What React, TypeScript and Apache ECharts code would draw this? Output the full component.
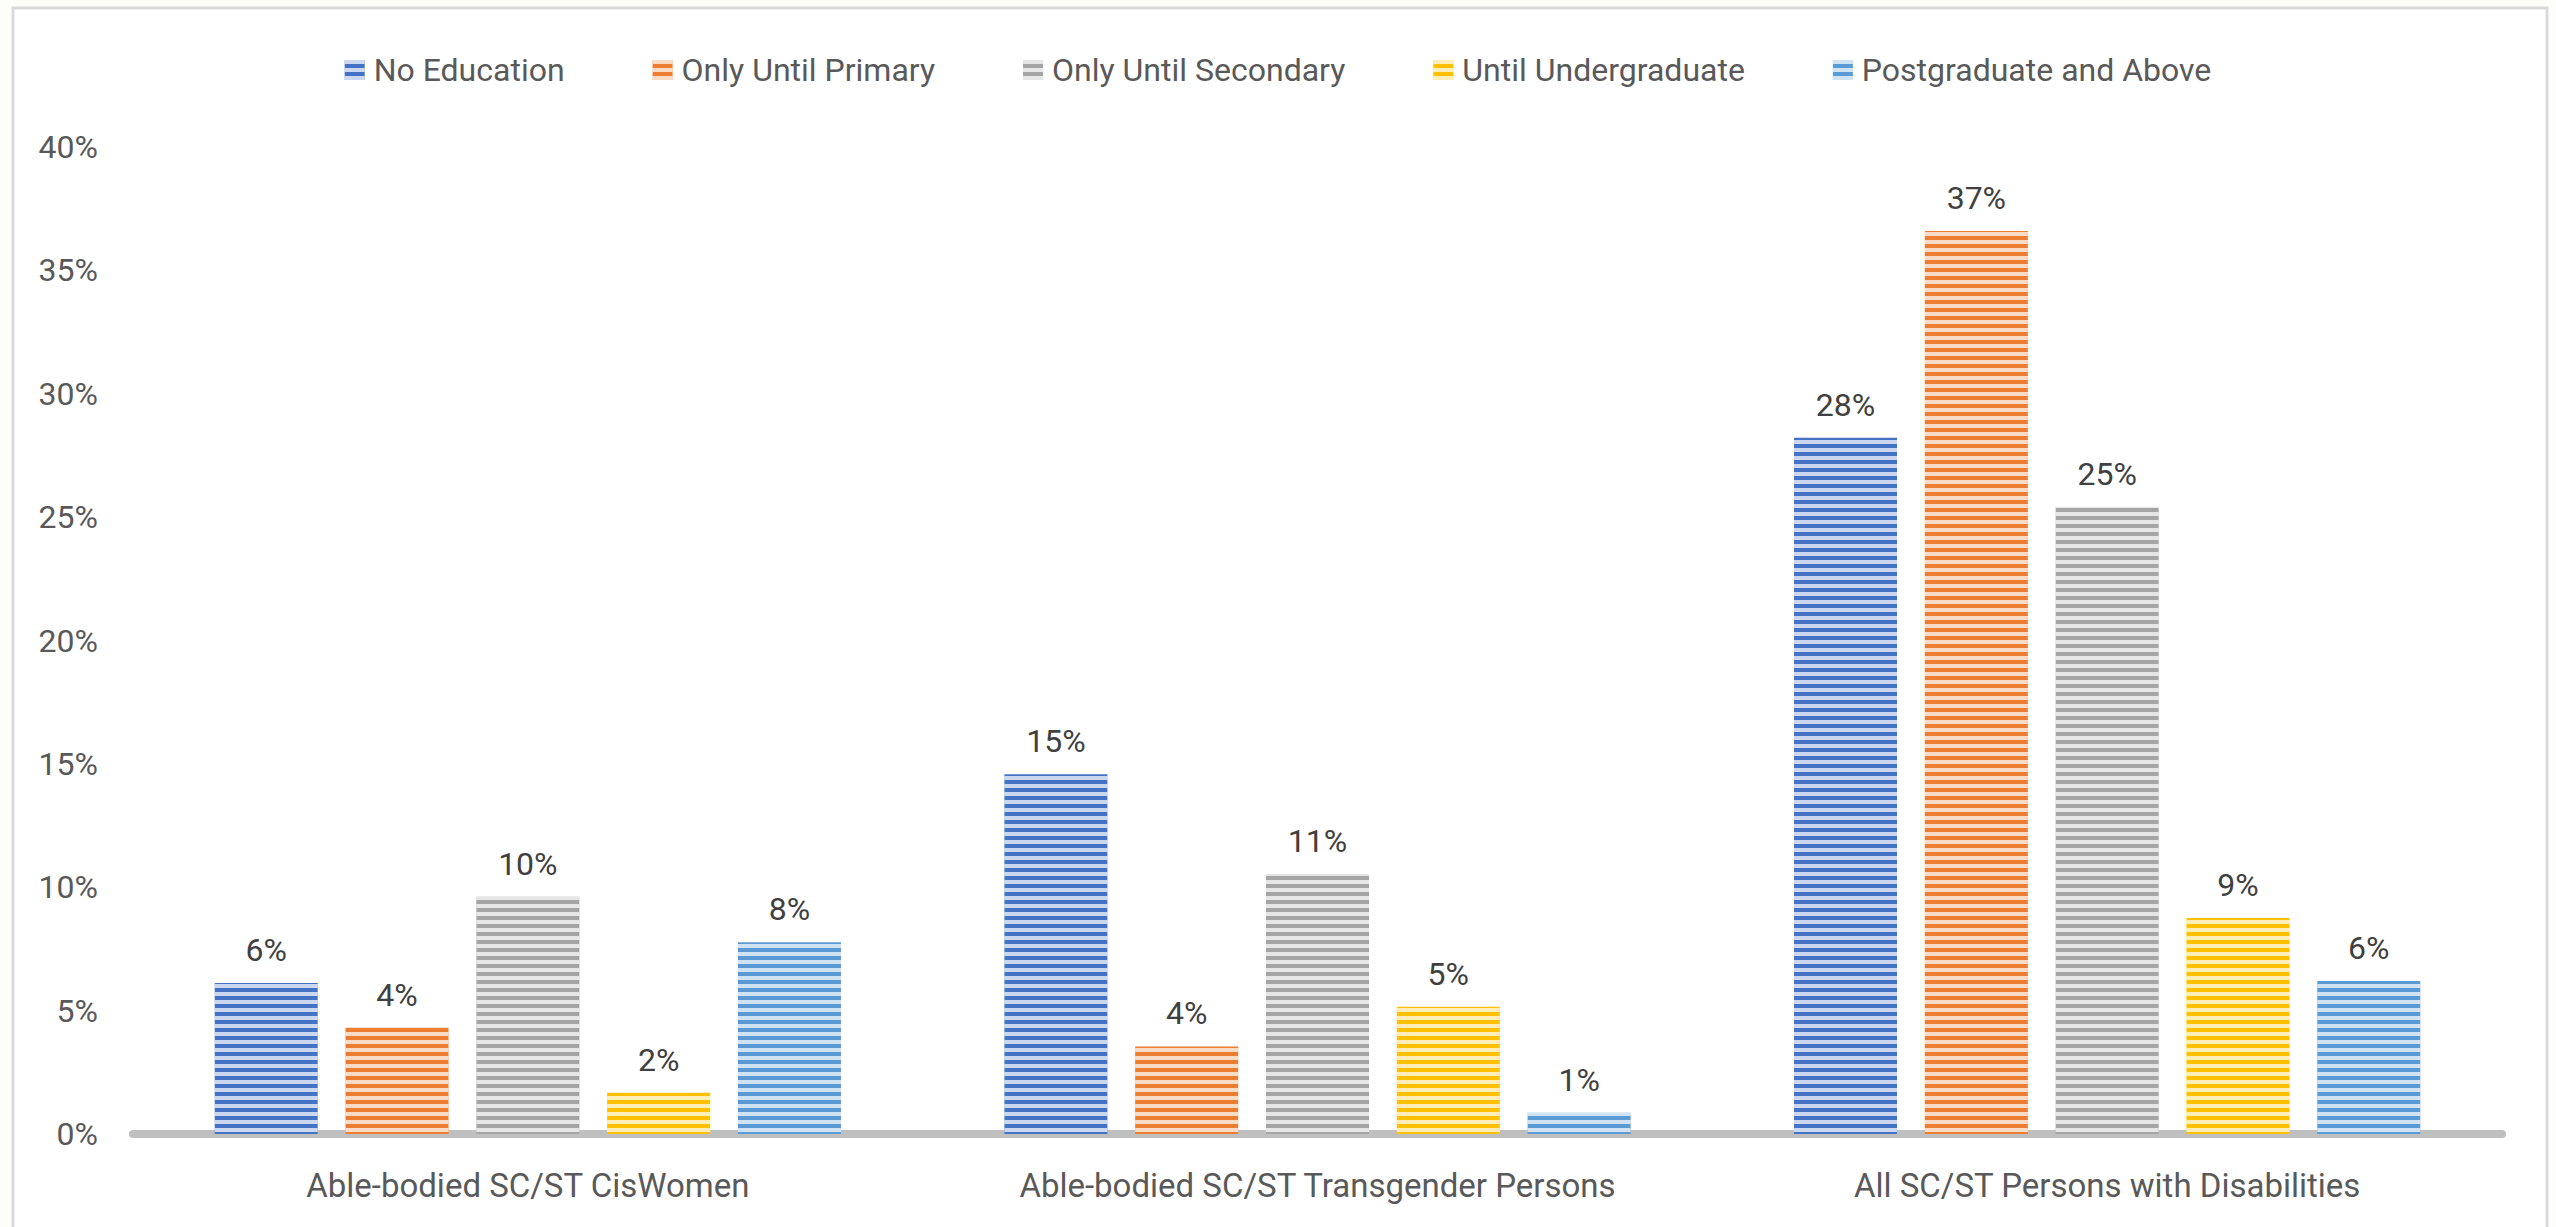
import React, { useEffect, useRef } from "react";
import * as echarts from "echarts";

const categories = [
  "Able-bodied SC/ST CisWomen",
  "Able-bodied SC/ST Transgender Persons",
  "All SC/ST Persons with Disabilities",
];
const seriesNames = [
  "No Education",
  "Only Until Primary",
  "Only Until Secondary",
  "Until Undergraduate",
  "Postgraduate and Above",
];
const noEducation = [6.12, 14.58, 28.22];
const onlyUntilPrimary = [4.31, 3.55, 36.6];
const onlyUntilSecondary = [9.62, 10.52, 25.41];
const untilUndergraduate = [1.67, 5.16, 8.75];
const postgraduateAndAbove = [7.77, 0.86, 6.2];
const seriesValues = [noEducation, onlyUntilPrimary, onlyUntilSecondary, untilUndergraduate, postgraduateAndAbove];
const colors = ["#4472c4", "#ed7d31", "#a5a5a5", "#ffc000", "#5b9bd5"];

const FONT = "Roboto, 'Noto Sans', sans-serif";

export default function App() {
  const ref = useRef<HTMLDivElement>(null);
  useEffect(() => {
    if (!ref.current) return;
    const chart = echarts.init(ref.current, null, { renderer: "svg" });
    const decal = {
      symbol: "rect",
      symbolSize: 1,
      dashArrayX: [1, 0],
      dashArrayY: [4, 4],
      rotation: 0,
      color: "rgba(255,255,255,0.72)",
    };
    chart.setOption({
      animation: false,
      backgroundColor: "#fdfdf9",
      aria: { enabled: true, decal: { show: true } },
      textStyle: { fontFamily: FONT },
      graphic: [
        {
          type: "rect",
          z: -100,
          silent: true,
          shape: { x: 13, y: 8, width: 2534, height: 1240 },
          style: { fill: "#ffffff", stroke: "#d9d9d9", lineWidth: 3 },
        },
      ],
      legend: {
        top: 49,
        left: "center",
        itemWidth: 20,
        itemHeight: 20,
        itemGap: 88,
        icon: "rect",
        textStyle: { color: "#595959", fontSize: 32, fontFamily: FONT, padding: [0, 0, 0, 4] },
        data: seriesNames,
      },
      grid: { left: 133, right: 54, top: 147, bottom: 93, containLabel: false },
      xAxis: {
        type: "category",
        data: categories,
        offset: 4,
        axisLine: { show: true, lineStyle: { color: "#bfbfbf", width: 8 } },
        axisTick: { show: false },
        axisLabel: { color: "#595959", fontSize: 33, fontFamily: FONT, margin: 31 },
      },
      yAxis: {
        type: "value",
        min: 0,
        max: 40,
        interval: 5,
        axisLine: { show: false },
        axisTick: { show: false },
        splitLine: { show: false },
        axisLabel: { color: "#595959", fontSize: 32, fontFamily: FONT, margin: 35, formatter: "{value}%" },
      },
      series: seriesNames.map((name, i) => ({
        name,
        type: "bar",
        data: seriesValues[i],
        barWidth: 103,
        barGap: "27%",
        itemStyle: { color: colors[i], decal },
        label: {
          show: true,
          position: "top",
          distance: 17,
          color: "#404040",
          fontSize: 32,
          fontFamily: FONT,
          formatter: (p: any) => Math.round(p.value) + "%",
        },
      })),
    });
    return () => chart.dispose();
  }, []);
  return (
    <div
      ref={ref}
      style={{ position: "absolute", left: 0, top: 0, width: 2556, height: 1227 }}
    />
  );
}
